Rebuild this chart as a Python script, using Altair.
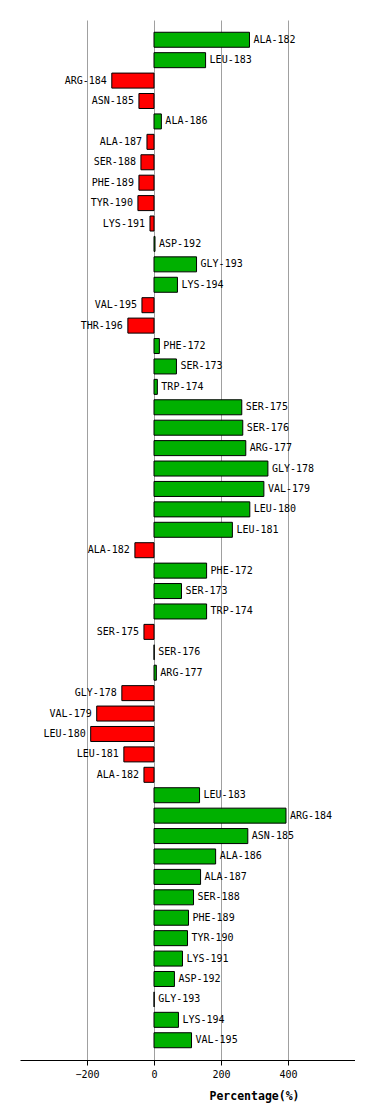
import altair as alt
import pandas as pd

labels = [
    "ALA-182", "LEU-183", "ARG-184", "ASN-185", "ALA-186", "ALA-187", "SER-188",
    "PHE-189", "TYR-190", "LYS-191", "ASP-192", "GLY-193", "LYS-194", "VAL-195",
    "THR-196", "PHE-172", "SER-173", "TRP-174", "SER-175", "SER-176", "ARG-177",
    "GLY-178", "VAL-179", "LEU-180", "LEU-181", "ALA-182", "PHE-172", "SER-173",
    "TRP-174", "SER-175", "SER-176", "ARG-177", "GLY-178", "VAL-179", "LEU-180",
    "LEU-181", "ALA-182", "LEU-183", "ARG-184", "ASN-185", "ALA-186", "ALA-187",
    "SER-188", "PHE-189", "TYR-190", "LYS-191", "ASP-192", "GLY-193", "LYS-194",
    "VAL-195",
]
values = [
    285, 154, -126, -45, 22, -21, -39,
    -45, -48, -12, 3, 127, 70, -36,
    -78, 16, 67, 10, 262, 265, 274,
    340, 328, 286, 234, -57, 157, 82,
    157, -30, 0.5, 7, -96, -171, -189,
    -90, -30, 136, 394, 280, 184, 139,
    118, 103, 100, 85, 61, 0.5, 73,
    112,
]
x_ticks = [-200, 0, 200, 400]

df = pd.DataFrame({
    "idx": list(range(len(labels))),
    "label": labels,
    "value": values,
})
df["sign"] = ["pos" if v >= 0 else "neg" for v in values]

FONT = "DejaVu Sans Mono"

y_enc = alt.Y("idx:O", axis=None,
              scale=alt.Scale(paddingInner=0.265, paddingOuter=0.6))

base = alt.Chart(df)

bars = base.mark_bar(stroke="black", strokeWidth=1).encode(
    x=alt.X("value:Q",
            scale=alt.Scale(domain=[-400, 600], nice=False, zero=False),
            axis=alt.Axis(values=x_ticks, title="Percentage(%)",
                          grid=True, gridColor="#a0a0a0", gridWidth=1,
                          domainColor="black", domainWidth=1,
                          tickColor="black", tickSize=5,
                          labelFont=FONT, labelFontSize=10, labelColor="black",
                          labelPadding=4,
                          titleFont=FONT, titleFontSize=11.5, titleFontWeight="bold",
                          titleColor="black", titleX=234, titleY=39,
                          titleAlign="center", titleBaseline="alphabetic")),
    y=y_enc,
    color=alt.Color("sign:N",
                    scale=alt.Scale(domain=["pos", "neg"], range=["#00b000", "#ff0000"]),
                    legend=None),
)

text_pos = base.transform_filter("datum.value >= 0").mark_text(
    align="left", baseline="middle", dx=4, font=FONT, fontSize=10, color="black"
).encode(x="value:Q", y=y_enc, text="label:N")

text_neg = base.transform_filter("datum.value < 0").mark_text(
    align="right", baseline="middle", dx=-5, font=FONT, fontSize=10, color="black"
).encode(x="value:Q", y=y_enc, text="label:N")

chart = alt.layer(bars, text_pos, text_neg).properties(
    width=335, height=1040,
    autosize=alt.AutoSizeParams(type="none"),
    padding={"left": 12, "top": 12, "right": 0, "bottom": 50},
).configure_view(stroke=None)

chart.save("out.html", embed_options={"renderer": "svg", "actions": False})
